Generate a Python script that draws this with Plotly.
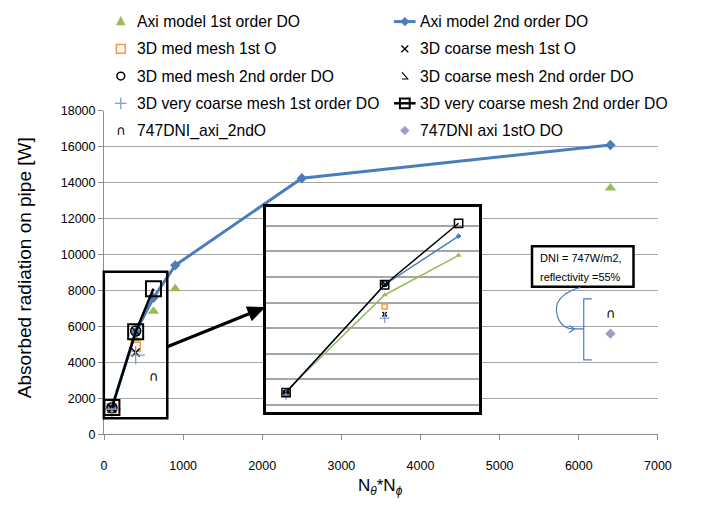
import math
import plotly.graph_objects as go

W, H = 709, 512

# ---------------- data ----------------
n_axi2 = [100, 400, 625, 900, 2500, 6400]
axi_2nd = [1500, 5700, 7600, 9400, 14250, 16100]

n_axi1 = [100, 400, 625, 900, 6400]
axi_1st = [1540, 5300, 6850, 8100, 13700]

n_3d = [100, 400]
med_1st = [1450, 4850]
coarse_1st = [1430, 4550]
med_2nd = [1480, 5750]
coarse_2nd = [1470, 5720]
vcoarse_1st = [1400, 4400]

n_vc2 = [100, 400, 625]
vcoarse_2nd = [1490, 5700, 8100]

n_dni2 = [625, 6400]
dni_axi_2nd = [3150, 6650]
n_dni1 = [6400]
dni_axi_1st = [5600]

x_ticks = [0, 1000, 2000, 3000, 4000, 5000, 6000, 7000]
y_ticks = [0, 2000, 4000, 6000, 8000, 10000, 12000, 14000, 16000, 18000]

names = {
    "axi1": "Axi model 1st order DO",
    "axi2": "Axi model 2nd order DO",
    "med1": "3D med mesh 1st O",
    "coarse1": "3D coarse mesh 1st O",
    "med2": "3D med mesh 2nd order DO",
    "coarse2": "3D coarse mesh 2nd order DO",
    "vc1": "3D very coarse mesh 1st order DO",
    "vc2": "3D very coarse mesh 2nd order DO",
    "dni2": "747DNI_axi_2ndO",
    "dni1": "747DNI axi 1stO DO",
}

BLUE = "#4a7ebb"
GREEN = "#9bbb59"
ORANGE = "#f79646"
LBLUE = "#7f9fd0"
PURPLE = "#a399c7"
FONT = "Liberation Sans"
GRID = "#a6a6a6"
AX = "#8c8c8c"
GLYPH = "∩"


# pixel -> paper helpers (figure has zero margins)
def px(x):
    return x / W


def py(y):
    return 1 - y / H


def path(points, close=False):
    s = "M " + " L ".join(f"{px(a):.5f},{py(b):.5f}" for a, b in points)
    return s + (" Z" if close else "")


def sub(xs, ys, limit=625):
    pairs = [(a, b) for a, b in zip(xs, ys) if a <= limit]
    return [p[0] for p in pairs], [p[1] for p in pairs]


fig = go.Figure()


# ---------------- data traces (main chart and enlarged view) ----------------
def add_series(xa, ya, big=True):
    s = 1.0 if big else 0.55
    ax1x, ax1y = (n_axi1, axi_1st) if big else sub(n_axi1, axi_1st)
    fig.add_trace(go.Scatter(
        x=ax1x, y=ax1y, name=names["axi1"],
        mode="markers" if big else "lines+markers",
        line=dict(color=GREEN, width=1.5),
        marker=dict(symbol="triangle-up", size=10 * s, color=GREEN),
        xaxis=xa, yaxis=ya, showlegend=False))
    a2x, a2y = (n_axi2, axi_2nd) if big else sub(n_axi2, axi_2nd)
    fig.add_trace(go.Scatter(
        x=a2x, y=a2y, name=names["axi2"], mode="lines+markers",
        line=dict(color=BLUE, width=3 if big else 1.5),
        marker=dict(symbol="diamond", size=8 * s, color=BLUE),
        xaxis=xa, yaxis=ya, showlegend=False))
    fig.add_trace(go.Scatter(
        x=n_3d, y=med_1st, name=names["med1"], mode="markers",
        marker=dict(symbol="square-open", size=9 * s, color=ORANGE,
                    line=dict(width=1.5)),
        xaxis=xa, yaxis=ya, showlegend=False))
    fig.add_trace(go.Scatter(
        x=n_3d, y=coarse_1st, name=names["coarse1"], mode="markers",
        marker=dict(symbol="x-thin", size=8 * s, color="black",
                    line=dict(width=1.5, color="black")),
        xaxis=xa, yaxis=ya, showlegend=False))
    fig.add_trace(go.Scatter(
        x=n_3d, y=med_2nd, name=names["med2"], mode="markers",
        marker=dict(symbol="circle-open", size=10 * s, color="black",
                    line=dict(width=1.5)),
        xaxis=xa, yaxis=ya, showlegend=False))
    fig.add_trace(go.Scatter(
        x=n_3d, y=coarse_2nd, name=names["coarse2"], mode="markers",
        marker=dict(symbol="line-nw", size=8 * s, color="black",
                    line=dict(width=1.2, color="black")),
        xaxis=xa, yaxis=ya, showlegend=False))
    fig.add_trace(go.Scatter(
        x=n_3d, y=vcoarse_1st, name=names["vc1"], mode="markers",
        marker=dict(symbol="cross-thin", size=13 * s, color=LBLUE,
                    line=dict(width=1.3, color=LBLUE)),
        xaxis=xa, yaxis=ya, showlegend=False))
    fig.add_trace(go.Scatter(
        x=n_vc2, y=vcoarse_2nd, name=names["vc2"], mode="lines+markers",
        line=dict(color="black", width=2.5 if big else 1.5),
        marker=dict(symbol="square-open", size=15 * s, color="black",
                    line=dict(width=2 if big else 1.5)),
        xaxis=xa, yaxis=ya, showlegend=False))
    if big:
        fig.add_trace(go.Scatter(
            x=n_dni2, y=dni_axi_2nd, name=names["dni2"], mode="text",
            text=[GLYPH] * len(n_dni2), textposition="middle center",
            textfont=dict(family="DejaVu Sans", size=13, color="black"),
            xaxis=xa, yaxis=ya, showlegend=False))
        fig.add_trace(go.Scatter(
            x=n_dni1, y=dni_axi_1st, name=names["dni1"], mode="markers",
            marker=dict(symbol="diamond", size=8, color=PURPLE),
            xaxis=xa, yaxis=ya, showlegend=False))


add_series("x", "y", big=True)
add_series("x2", "y2", big=False)

# ---------------- legend ----------------
rows = [15, 43, 71, 99, 127]
c1_sym, c1_txt = 120.7, 135
c2_sym, c2_txt = 411.7, 425

shapes = []
annotations = []


def seg(points, color, width=1.5, fill=None, close=False):
    d = dict(type="path", xref="paper", yref="paper", path=path(points, close),
             line=dict(color=color, width=width))
    if fill:
        d["fillcolor"] = fill
    shapes.append(d)


def triangle(cx, cy, w, h, color):
    seg([(cx, cy - h * 0.6), (cx + w / 2, cy + h * 0.4), (cx - w / 2, cy + h * 0.4)],
        color, 0.5, fill=color, close=True)


def diamond(cx, cy, r, color):
    seg([(cx, cy - r), (cx + r, cy), (cx, cy + r), (cx - r, cy)], color, 0.5,
        fill=color, close=True)


def box(cx, cy, r, color, width=1.5, fill=None):
    d = dict(type="rect", xref="paper", yref="paper",
             x0=px(cx - r), x1=px(cx + r), y0=py(cy + r), y1=py(cy - r),
             line=dict(color=color, width=width))
    if fill:
        d["fillcolor"] = fill
    shapes.append(d)


# column 1
triangle(c1_sym, rows[0], 9, 9, GREEN)
box(c1_sym, rows[1], 4.5, ORANGE, 1.5)
shapes.append(dict(type="circle", xref="paper", yref="paper",
                   x0=px(c1_sym - 4), x1=px(c1_sym + 4),
                   y0=py(rows[2] + 4), y1=py(rows[2] - 4),
                   line=dict(color="black", width=1.5)))
seg([(c1_sym - 6, rows[3]), (c1_sym + 6, rows[3])], LBLUE, 1.3)
seg([(c1_sym, rows[3] - 6), (c1_sym, rows[3] + 6)], LBLUE, 1.3)
annotations.append(dict(x=px(c1_sym), y=py(rows[4]), xref="paper", yref="paper",
                        text=GLYPH, showarrow=False, xanchor="center", yanchor="middle",
                        font=dict(family="DejaVu Sans", size=13, color="black")))
# column 2
seg([(400.7, rows[0]), (422.7, rows[0])], BLUE, 3)
diamond(c2_sym, rows[0], 4.5, BLUE)
seg([(c2_sym - 3.5, rows[1] - 3.5), (c2_sym + 3.5, rows[1] + 3.5)], "black", 1.3)
seg([(c2_sym - 3.5, rows[1] + 3.5), (c2_sym + 3.5, rows[1] - 3.5)], "black", 1.3)
seg([(c2_sym - 3, rows[2] - 4), (c2_sym + 3, rows[2] + 3), (c2_sym - 3, rows[2] + 3)],
    "black", 1.1)
seg([(400.7, rows[3]), (422.7, rows[3])], "black", 2.5)
box(c2_sym, rows[3], 5, "black", 2)
diamond(c2_sym, rows[4], 4.5, PURPLE)

legend_text = [
    (c1_txt, rows[0], names["axi1"]), (c1_txt, rows[1], names["med1"]),
    (c1_txt, rows[2], names["med2"]), (c1_txt, rows[3], names["vc1"]),
    (c1_txt, rows[4], names["dni2"]),
    (c2_txt, rows[0], names["axi2"]), (c2_txt, rows[1], names["coarse1"]),
    (c2_txt, rows[2], names["coarse2"]), (c2_txt, rows[3], names["vc2"]),
    (c2_txt, rows[4], names["dni1"]),
]
for tx, ty, t in legend_text:
    annotations.append(dict(x=px(tx), y=py(ty), xref="paper", yref="paper",
                            text=t, showarrow=False, xanchor="left", yanchor="middle",
                            font=dict(family=FONT, size=15.7, color="black")))

# ---------------- axis titles ----------------
annotations.append(dict(x=px(22), y=py(268), xref="paper", yref="paper",
                        text="Absorbed radiation on pipe [W]", textangle=-90,
                        showarrow=False, xanchor="center", yanchor="middle",
                        font=dict(family=FONT, size=19, color="black")))
annotations.append(dict(x=px(387), y=py(493), xref="paper", yref="paper",
                        text="N<sub><i>θ</i></sub>*N<sub><i>ϕ</i></sub>",
                        showarrow=False, xanchor="center", yanchor="middle",
                        font=dict(family=FONT, size=17, color="black")))

# ---------------- callouts ----------------
# frame around the low-resolution cluster
shapes.append(dict(type="rect", xref="paper", yref="paper",
                   x0=px(103.3), x1=px(168.3), y0=py(422.7), y1=py(272.3),
                   line=dict(color="black", width=2.5)))

# thick arrow pointing to the enlarged view
tail = (168.3, 349.3)
tip = (268.0, 309.0)
dx, dy = tip[0] - tail[0], tip[1] - tail[1]
L = math.hypot(dx, dy)
ux, uy = dx / L, dy / L
nx, ny = -uy, ux
head_len, head_half = 17, 7.5
bx, by = tip[0] - head_len * ux, tip[1] - head_len * uy
seg([tail, (bx + 2 * ux, by + 2 * uy)], "black", 3)
seg([tip, (bx + head_half * nx, by + head_half * ny),
     (bx - head_half * nx, by - head_half * ny)], "black", 1, fill="black", close=True)

# DNI note box
shapes.append(dict(type="rect", xref="paper", yref="paper",
                   x0=px(542), x1=px(646), y0=py(287.5), y1=py(246),
                   line=dict(color="black", width=2.5), fillcolor="white"))
annotations.append(dict(x=px(548), y=py(258), xref="paper", yref="paper",
                        text="DNI = 747W/m2,", showarrow=False, xanchor="left",
                        yanchor="middle", font=dict(family=FONT, size=11, color="black")))
annotations.append(dict(x=px(548), y=py(278), xref="paper", yref="paper",
                        text="reflectivity =55%", showarrow=False, xanchor="left",
                        yanchor="middle", font=dict(family=FONT, size=11, color="black")))

# bracket and curved pointer
seg([(603.3, 300), (595, 300), (595, 362.7), (603.3, 362.7)], BLUE, 1.2)
curve = (f"M {px(591.7):.5f},{py(288.3):.5f} "
         f"C {px(578):.5f},{py(292):.5f} {px(566):.5f},{py(300):.5f} {px(567):.5f},{py(312):.5f} "
         f"C {px(568):.5f},{py(325):.5f} {px(576):.5f},{py(331):.5f} {px(585):.5f},{py(331):.5f} "
         f"L {px(595):.5f},{py(331):.5f}")
shapes.append(dict(type="path", xref="paper", yref="paper", path=curve,
                   line=dict(color=BLUE, width=1.2)))
seg([(580, 327.5), (585.5, 331), (580, 335)], BLUE, 1.2)

fig.update_layout(
    width=W, height=H,
    margin=dict(l=0, r=0, t=0, b=0),
    paper_bgcolor="white", plot_bgcolor="white",
    showlegend=False,
    font=dict(family=FONT, size=12, color="black"),
    xaxis=dict(domain=[px(103.5), px(671)], range=[0, 7000],
               tickvals=x_ticks, ticktext=[str(v) for v in x_ticks],
               showgrid=False, zeroline=False, showline=True, linecolor=AX,
               linewidth=1, ticks="outside", ticklen=5, tickcolor=AX,
               ticklabelstandoff=15, tickfont=dict(size=12.5)),
    yaxis=dict(domain=[py(439.3), py(106.7)], range=[0, 18000],
               tickvals=y_ticks, ticktext=[str(v) for v in y_ticks],
               showgrid=True, gridcolor=GRID, gridwidth=1.2, zeroline=False,
               showline=True, linecolor=AX, linewidth=1, ticks="outside",
               ticklen=5, tickcolor=AX, tickfont=dict(size=12.5)),
    xaxis2=dict(domain=[px(269), px(488)], range=[37.6, 688], anchor="y2",
                showgrid=False, zeroline=False, showticklabels=False,
                showline=True, mirror=True, linecolor="black", linewidth=2.5),
    yaxis2=dict(domain=[py(416), py(205.7)], range=[745, 8733], anchor="x2",
                dtick=1000, tick0=0, showgrid=True, gridcolor=GRID, gridwidth=1.5,
                zeroline=False, showticklabels=False,
                showline=True, mirror=True, linecolor="black", linewidth=2.5),
    shapes=shapes,
    annotations=annotations,
)

fig.write_html("out.html")
